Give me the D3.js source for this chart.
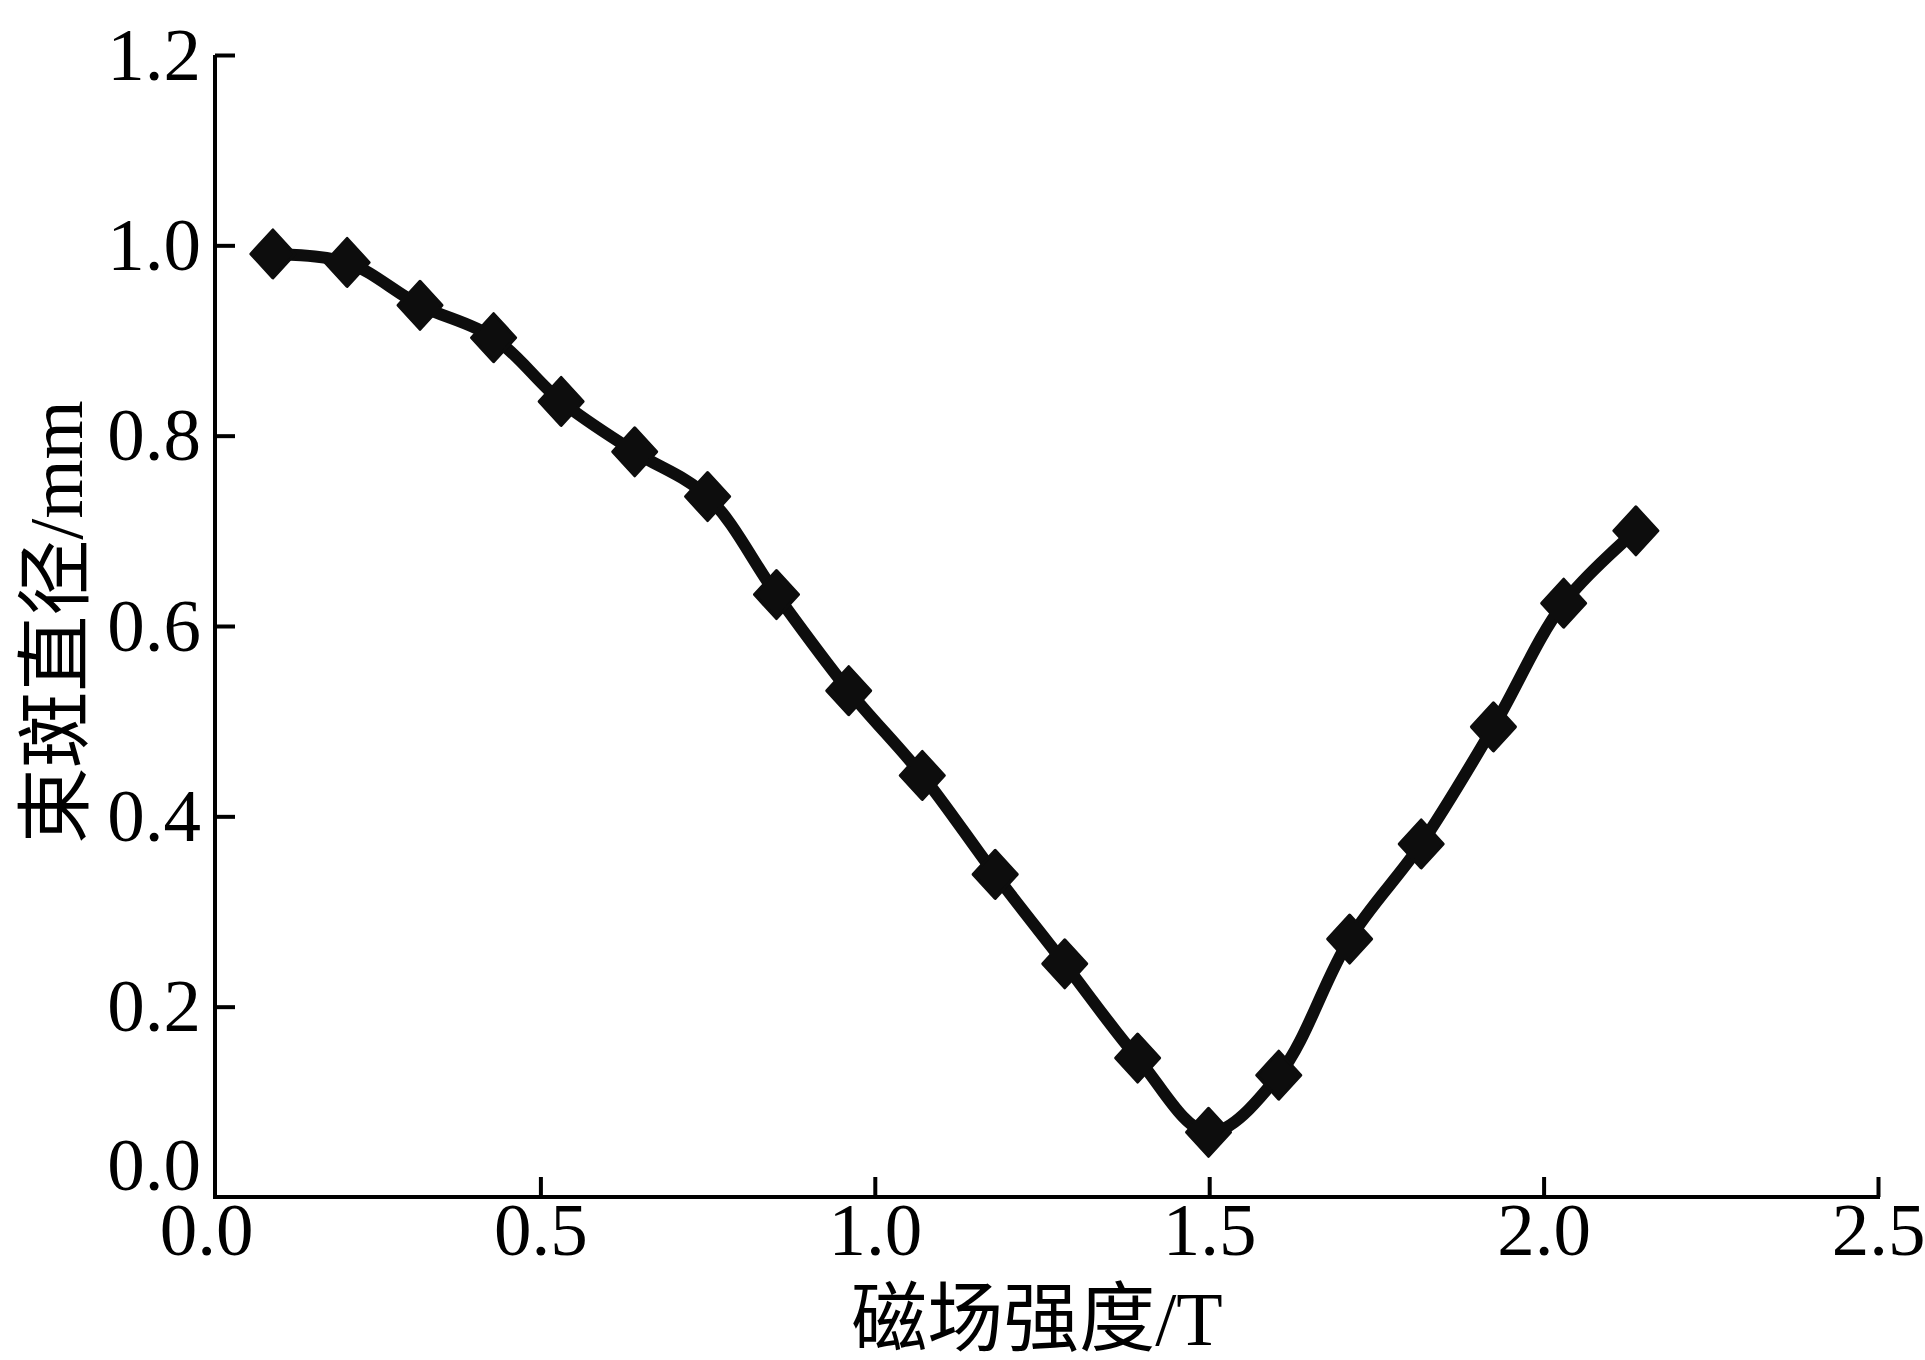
<!DOCTYPE html>
<html>
<head>
<meta charset="utf-8">
<script src="https://cdn.jsdelivr.net/npm/d3@7"></script>
<style>
  body { margin: 0; background: #fff; }
  text { font-family: "Liberation Serif", "Noto Sans CJK SC", serif; fill: #000; }
</style>
</head>
<body>
<svg></svg>
<script>
var fieldT = [0.100, 0.211, 0.320, 0.430, 0.531, 0.641, 0.750, 0.853, 0.961, 1.071,
  1.180, 1.284, 1.393, 1.499, 1.604, 1.710, 1.817, 1.925, 2.030, 2.138];
var spotMm = [0.991, 0.982, 0.937, 0.903, 0.836, 0.783, 0.736, 0.633, 0.532, 0.443,
  0.339, 0.245, 0.146, 0.068, 0.128, 0.271, 0.371, 0.494, 0.624, 0.700];
var xTicks = [0, 0.5, 1.0, 1.5, 2.0, 2.5];
var yTicks = [0, 0.2, 0.4, 0.6, 0.8, 1.0, 1.2];
var xTitle = "磁场强度/T";
var yTitle = "束斑直径/mm";

var width = 1925,
  height = 1360;

var svg = d3.select("svg")
  .attr("width", width)
  .attr("height", height);

var x = d3.scaleLinear().domain([0, 2.5]).range([206, 1878]);
var y = d3.scaleLinear().domain([0, 1.2]).range([1197, 55]);

var axisX = x(0) + 9; // y axis sits a hair right of x=0

var points = fieldT.map(function(d, i) {
  return { x: d, y: spotMm[i] };
});

// axis lines
svg.append("line")
  .attr("x1", axisX).attr("x2", axisX)
  .attr("y1", y(1.2)).attr("y2", y(0) + 2)
  .attr("stroke", "#000").attr("stroke-width", 4);

svg.append("line")
  .attr("x1", axisX - 2).attr("x2", x(2.5) + 2)
  .attr("y1", y(0)).attr("y2", y(0))
  .attr("stroke", "#000").attr("stroke-width", 4);

var gx = svg.append("g")
  .attr("transform", "translate(0," + y(0) + ")")
  .call(d3.axisBottom(x)
    .tickValues(xTicks)
    .tickFormat(d3.format(".1f"))
    .tickSizeInner(-20)
    .tickSizeOuter(0)
    .tickPadding(5));

var gy = svg.append("g")
  .attr("transform", "translate(" + axisX + ",0)")
  .call(d3.axisLeft(y)
    .tickValues(yTicks)
    .tickFormat(d3.format(".1f"))
    .tickSizeInner(-20)
    .tickSizeOuter(0)
    .tickPadding(14));

svg.selectAll(".domain").remove();
svg.selectAll(".tick line")
  .attr("stroke", "#000")
  .attr("stroke-width", 4);
svg.selectAll(".tick text")
  .attr("font-family", "Liberation Serif, serif")
  .attr("font-size", 75)
  .attr("fill", "#000");
gx.selectAll(".tick")
  .filter(function(d) { return d === 0; })
  .select("line").remove();
// the y 0.0 label sits on top of the x axis, not centred on it
var y0 = gy.selectAll(".tick")
  .filter(function(d) { return d === 0; });
y0.select("line").remove();
y0.select("text").attr("dy", "-0.1em");

// smoothed line
var line = d3.line()
  .x(function(d) { return x(d.x); })
  .y(function(d) { return y(d.y); })
  .curve(d3.curveCatmullRom.alpha(0.5));

svg.append("path")
  .datum(points)
  .attr("d", line)
  .attr("fill", "none")
  .attr("stroke", "#0d0d0d")
  .attr("stroke-width", 12)
  .attr("stroke-linejoin", "round");

// diamond markers, a little taller than wide
function diamond(hw, hh) {
  var p = d3.path();
  p.moveTo(0, -hh);
  p.lineTo(hw, 0);
  p.lineTo(0, hh);
  p.lineTo(-hw, 0);
  p.closePath();
  return p.toString();
}

svg.append("g")
  .selectAll("path")
  .data(points)
  .enter().append("path")
  .attr("d", diamond(22, 24))
  .attr("transform", function(d) {
    return "translate(" + x(d.x) + "," + y(d.y) + ")";
  })
  .attr("fill", "#0d0d0d")
  .attr("stroke", "#0d0d0d")
  .attr("stroke-width", 3)
  .attr("stroke-linejoin", "round");

// axis titles
svg.append("text")
  .attr("x", 1037)
  .attr("y", 1345)
  .attr("text-anchor", "middle")
  .attr("font-size", 76)
  .text(xTitle);

svg.append("text")
  .attr("transform", "translate(82,622) rotate(-90)")
  .attr("text-anchor", "middle")
  .attr("font-size", 76)
  .text(yTitle);
</script>
</body>
</html>
